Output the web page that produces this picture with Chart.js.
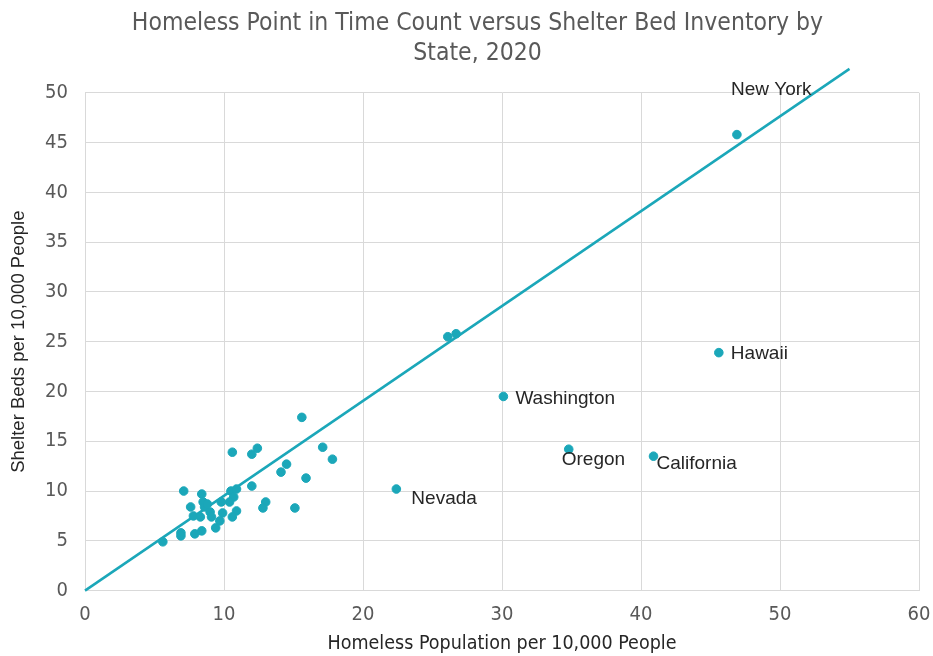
<!DOCTYPE html>
<html>
<head>
<meta charset="utf-8">
<script src="https://cdn.jsdelivr.net/npm/chart.js@4/dist/chart.umd.min.js"></script>
<style>
  html, body { margin: 0; padding: 0; background: #ffffff; }
  #wrap { width: 933px; height: 656px; position: relative; }
</style>
</head>
<body>
<div id="wrap"><canvas id="c" width="933" height="656"></canvas></div>
<script>
// Homeless population per 10,000 people (x) and shelter beds per 10,000 people (y)
const stateNames = ['New York', 'Hawaii', 'Washington', 'Oregon', 'California', 'Nevada',
  '', '', '', '', '', '', '', '', '', '', '', '', '', '', '',
  '', '', '', '', '', '', '', '', '', '', '', '', '', '', '', '', '', '', '', '', '', '', '', '', ''];
const homelessPer10k = [46.9, 45.6, 30.1, 34.8, 40.9, 22.4,
  26.1, 26.7, 15.6, 10.6, 12.0, 12.4, 17.1, 17.8, 14.5, 14.1, 15.9, 15.1, 12.0, 13.0, 12.8,
  7.1, 8.4, 7.6, 8.5, 8.6, 7.8, 8.3, 9.0, 9.1, 9.8, 9.9, 9.7, 9.4, 10.5, 10.9, 10.7, 10.4, 10.9, 10.6,
  6.9, 6.9, 7.9, 8.4, 5.6, 8.8];
const bedsPer10k = [45.8, 23.9, 19.5, 14.2, 13.5, 10.2,
  25.5, 25.8, 17.4, 13.9, 13.7, 14.3, 14.4, 13.2, 12.7, 11.9, 11.3, 8.3, 10.5, 8.9, 8.3,
  10.0, 9.7, 8.4, 8.9, 8.4, 7.5, 7.4, 7.9, 7.4, 8.9, 7.8, 7.0, 6.3, 10.0, 10.2, 9.4, 8.9, 8.0, 7.4,
  5.8, 5.5, 5.7, 6.0, 4.9, 8.7];
// Trend line (through origin)
const trendX = [0, 55];
const trendY = [0, 52.4];
const xTicks = [0, 10, 20, 30, 40, 50, 60];
const yTicks = [0, 5, 10, 15, 20, 25, 30, 35, 40, 45, 50];

const teal = '#1ba7b9';
const tickFont = "'Liberation Sans Narrow', 'DejaVu Sans Condensed', 'Liberation Sans', sans-serif";

const points = homelessPer10k.map((x, i) => ({ x: x, y: bedsPer10k[i], name: stateNames[i] }));
const trend = trendX.map((x, i) => ({ x: x, y: trendY[i] }));

const labelOffsets = {
  'New York': [-6, -45],
  'Hawaii': [12, 1],
  'Washington': [12, 2],
  'Oregon': [-7, 11],
  'California': [3, 8],
  'Nevada': [15, 10]
};

const labelPlugin = {
  id: 'stateLabels',
  afterDatasetsDraw(chart) {
    const ctx = chart.ctx;
    const meta = chart.getDatasetMeta(1);
    ctx.save();
    ctx.font = "19px 'Liberation Sans', Arial, sans-serif";
    ctx.fillStyle = '#262626';
    ctx.textAlign = 'left';
    ctx.textBaseline = 'middle';
    meta.data.forEach((el, i) => {
      const name = points[i].name;
      if (!name) return;
      const off = labelOffsets[name] || [10, 0];
      ctx.fillText(name, el.x + off[0], el.y + off[1]);
    });
    ctx.restore();
  }
};

new Chart(document.getElementById('c'), {
  type: 'scatter',
  data: {
    datasets: [
      {
        type: 'line',
        data: trend,
        borderColor: teal,
        borderWidth: 2.5,
        pointRadius: 0,
        fill: false,
        clip: false,
        order: 1
      },
      {
        data: points,
        backgroundColor: teal,
        borderColor: teal,
        pointRadius: 4.3,
        pointHoverRadius: 4.3,
        order: 0
      }
    ]
  },
  options: {
    responsive: false,
    animation: false,
    layout: { padding: { top: 0, right: 0, bottom: 0, left: 8 } },
    plugins: {
      legend: { display: false },
      tooltip: { enabled: false },
      title: {
        display: true,
        text: ['  Homeless Point in Time Count versus Shelter Bed Inventory by', '  State, 2020'],
        color: '#595959',
        font: { family: tickFont, size: 24.5, weight: 'normal', lineHeight: 1.22 },
        padding: { top: 9, bottom: 24 }
      }
    },
    scales: {
      x: {
        type: 'linear',
        min: 0, max: 60,
        afterBuildTicks(scale) { scale.ticks = xTicks.map(v => ({ value: v })); },
        afterFit(scale) { scale.paddingRight = 14; },
        grid: { color: '#d9d9d9', lineWidth: 1, drawTicks: false },
        border: { color: '#d9d9d9' },
        ticks: { color: '#595959', font: { family: tickFont, size: 20 }, padding: 12 },
        title: {
          display: true,
          text: 'Homeless Population per 10,000 People',
          color: '#262626',
          font: { family: "'Liberation Sans Narrow', 'DejaVu Sans Condensed', sans-serif", size: 19.5 },
          padding: { top: -6, bottom: 0 }
        }
      },
      y: {
        type: 'linear',
        min: 0, max: 50,
        afterBuildTicks(scale) { scale.ticks = yTicks.map(v => ({ value: v })); },
        afterFit(scale) { scale.width = 77; },
        grid: { color: '#d9d9d9', lineWidth: 1, drawTicks: false },
        border: { color: '#d9d9d9' },
        ticks: { color: '#595959', font: { family: tickFont, size: 20 }, padding: 17 },
        title: {
          display: true,
          text: 'Shelter Beds per 10,000 People',
          color: '#262626',
          font: { family: "'Liberation Sans', Arial, sans-serif", size: 18.5 },
          padding: { top: 0, bottom: 2 }
        }
      }
    }
  },
  plugins: [labelPlugin]
});
</script>
</body>
</html>
